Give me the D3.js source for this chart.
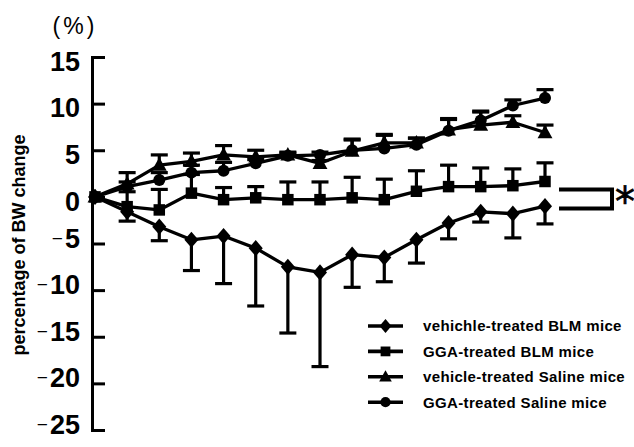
<!DOCTYPE html>
<html><head><meta charset="utf-8">
<script src="https://cdn.jsdelivr.net/npm/d3@7"></script>
<style>body{margin:0;background:#fff}svg{display:block}</style>
</head><body><svg id="c" width="634" height="447"></svg>
<script>
// ---- data ----
const timepoints = [0,1,2,3,4,5,6,7,8,9,10,11,12,13,14];
const seriesNames = ["vehichle-treated BLM mice","GGA-treated BLM mice","vehicle-treated Saline mice","GGA-treated Saline mice"];
const vehBLM    = [0,-1.6,-3.2,-4.6,-4.2,-5.5,-7.5,-8.1,-6.2,-6.5,-4.6,-2.8,-1.6,-1.8,-1.0];
const vehBLMerr = [0, 1.0, 1.5, 3.3, 5.1, 6.2, 7.1,10.1, 3.5, 2.6, 2.5, 1.7, 1.1, 2.6, 1.9];
const ggaBLM    = [0,-1.05,-1.4,0.4,-0.3,-0.1,-0.3,-0.3,-0.1,-0.3,0.6,1.1,1.1,1.2,1.65];
const ggaBLMerr = [0, 1.6, 2.2, 2.0, 1.3, 1.2, 1.9, 1.9, 2.2, 2.2, 2.2, 2.3, 2.0, 1.8, 2.0];
const vehSal    = [0, 1.4, 3.4, 3.8, 4.5, 4.3, 4.5, 3.6, 4.9, 5.8, 5.8, 7.2, 7.7, 8.0, 6.9];
const vehSalErr = [0, 1.2, 1.1, 0.9, 1.0, 0.7, 0.3, 0.3, 1.3, 0.9, 0.5, 1.2, 1.4, 0.7, 0.8];
const ggaSal    = [0, 1.1, 1.8, 2.6, 2.8, 3.6, 4.4, 4.5, 5.0, 5.2, 5.6, 7.1, 8.2, 9.8,10.6];
const ggaSalErr = [0, 0.5, 0.8, 0.8, 0.9, 0.4, 0.3, 0.3, 1.1, 1.4, 0.7, 1.2, 1.0, 0.6, 0.9];
const yTicks = [15,10,5,0,-5,-10,-15,-20,-25];
const yLabel = "percentage of BW change";
const unitLabel = "(%)";
const sigLabel = "*";

// ---- layout ----
const svg = d3.select("#c");
svg.append("rect").attr("width",634).attr("height",447).attr("fill","#fff");
const x = d3.scaleLinear().domain([0,14]).range([95,545]);
const y = d3.scaleLinear().domain([-25,15]).range([430,57]);
const axisX = 92;

// y axis
const ax = svg.append("g").attr("transform",`translate(${axisX},0)`)
  .call(d3.axisRight(y).tickValues(yTicks).tickSize(13).tickSizeOuter(0).tickFormat(""));
ax.selectAll("path,line").attr("stroke","#000").attr("stroke-width",3);
ax.select(".domain").attr("stroke-linecap","square");

const tl = svg.append("g").attr("font-family","Liberation Sans, Arial, sans-serif").attr("fill","#000");
yTicks.forEach(v=>{
  const t = tl.append("text").attr("x",80).attr("y",y(v)+4).attr("dy","0.36em")
    .attr("text-anchor","end").attr("font-size",27).attr("font-weight","bold");
  if(v<0){
    t.append("tspan").attr("font-weight","normal").attr("font-size",19).attr("dy",-3).text("\u2212");
    t.append("tspan").attr("dx",2).attr("dy",3).text(String(Math.abs(v)));
  } else t.text(String(v));
});

svg.append("text").attr("transform","translate(25,245) rotate(-90)")
  .attr("text-anchor","middle").attr("font-family","Liberation Sans, Arial, sans-serif")
  .attr("font-weight","bold").attr("font-size",18).text(yLabel);

svg.append("text").attr("x",75).attr("y",34).attr("text-anchor","middle")
  .attr("font-family","Liberation Sans, Arial, sans-serif").attr("font-size",23)
  .attr("letter-spacing",3).text(unitLabel);

// ---- marker shapes ----
const shapes = {
  diamond: (s)=>`M0,${-s*0.6}L${s*0.52},0L0,${s*0.6}L${-s*0.52},0Z`,
  square:  (s)=>`M${-s/2},${-s/2}h${s}v${s}h${-s}Z`,
  triangle:(s)=>`M0,${-s*0.58}L${s*0.55},${s*0.42}L${-s*0.55},${s*0.42}Z`,
  circle:  (s)=>`M${s/2},0A${s/2},${s/2} 0 1,1 ${-s/2},0A${s/2},${s/2} 0 1,1 ${s/2},0Z`
};
const series = [
  {name:seriesNames[0], vals:vehBLM, err:vehBLMerr, dir:-1, shape:"diamond", size:13.5},
  {name:seriesNames[1], vals:ggaBLM, err:ggaBLMerr, dir: 1, shape:"square", size:11.5},
  {name:seriesNames[2], vals:vehSal, err:vehSalErr, dir: 1, shape:"triangle", size:13.5},
  {name:seriesNames[3], vals:ggaSal, err:ggaSalErr, dir: 1, shape:"circle", size:12}
];

const plot = svg.append("g");
const line = d3.line().x((d,i)=>x(timepoints[i])).y(d=>y(d));
// error bars
series.forEach(s=>{
  const g = plot.append("g").attr("stroke","#000").attr("stroke-width",3.2);
  s.vals.forEach((v,i)=>{
    const e = s.err[i]; if(!e) return;
    const xe = x(timepoints[i]), y1 = y(v), y2 = y(v + s.dir*e);
    g.append("line").attr("x1",xe).attr("x2",xe).attr("y1",y1).attr("y2",y2);
    g.append("line").attr("x1",xe-8.5).attr("x2",xe+8.5).attr("y1",y2).attr("y2",y2);
  });
});
// lines
series.forEach(s=>{
  plot.append("path").attr("d",line(s.vals)).attr("fill","none")
    .attr("stroke","#000").attr("stroke-width",3.3).attr("stroke-linejoin","round");
});
// markers
series.forEach(s=>{
  plot.append("g").selectAll("path").data(s.vals).join("path")
    .attr("d",shapes[s.shape](s.size))
    .attr("transform",(d,i)=>`translate(${x(timepoints[i])},${y(d)})`)
    .attr("fill","#000");
});

// significance bracket
const bx0 = x(14)+14, bx1 = x(14)+67;
svg.append("path").attr("d",`M${bx0},${y(0.8)}H${bx1}V${y(-1.25)}H${bx0}`)
  .attr("fill","none").attr("stroke","#000").attr("stroke-width",4);
svg.append("text").attr("x",bx1+13).attr("y",216).attr("text-anchor","middle")
  .attr("font-family","DejaVu Sans, sans-serif").attr("font-weight","normal")
  .attr("fill","#000").attr("stroke","#000").attr("stroke-width",0.6)
  .attr("font-size",40).text(sigLabel);

// legend
const lg = svg.append("g").attr("font-family","Liberation Sans, Arial, sans-serif");
series.forEach((s,k)=>{
  const cy = 326 + k*25.4;
  lg.append("line").attr("x1",368).attr("x2",403).attr("y1",cy).attr("y2",cy)
    .attr("stroke","#000").attr("stroke-width",3.6);
  lg.append("path").attr("d",shapes[s.shape](s.size*0.85)).attr("transform",`translate(385.5,${cy})`).attr("fill","#000");
  lg.append("text").attr("x",423).attr("y",cy+5.3).attr("font-size",15).attr("font-weight","bold")
    .attr("letter-spacing",0.35).text(s.name);
});
</script></body></html>
